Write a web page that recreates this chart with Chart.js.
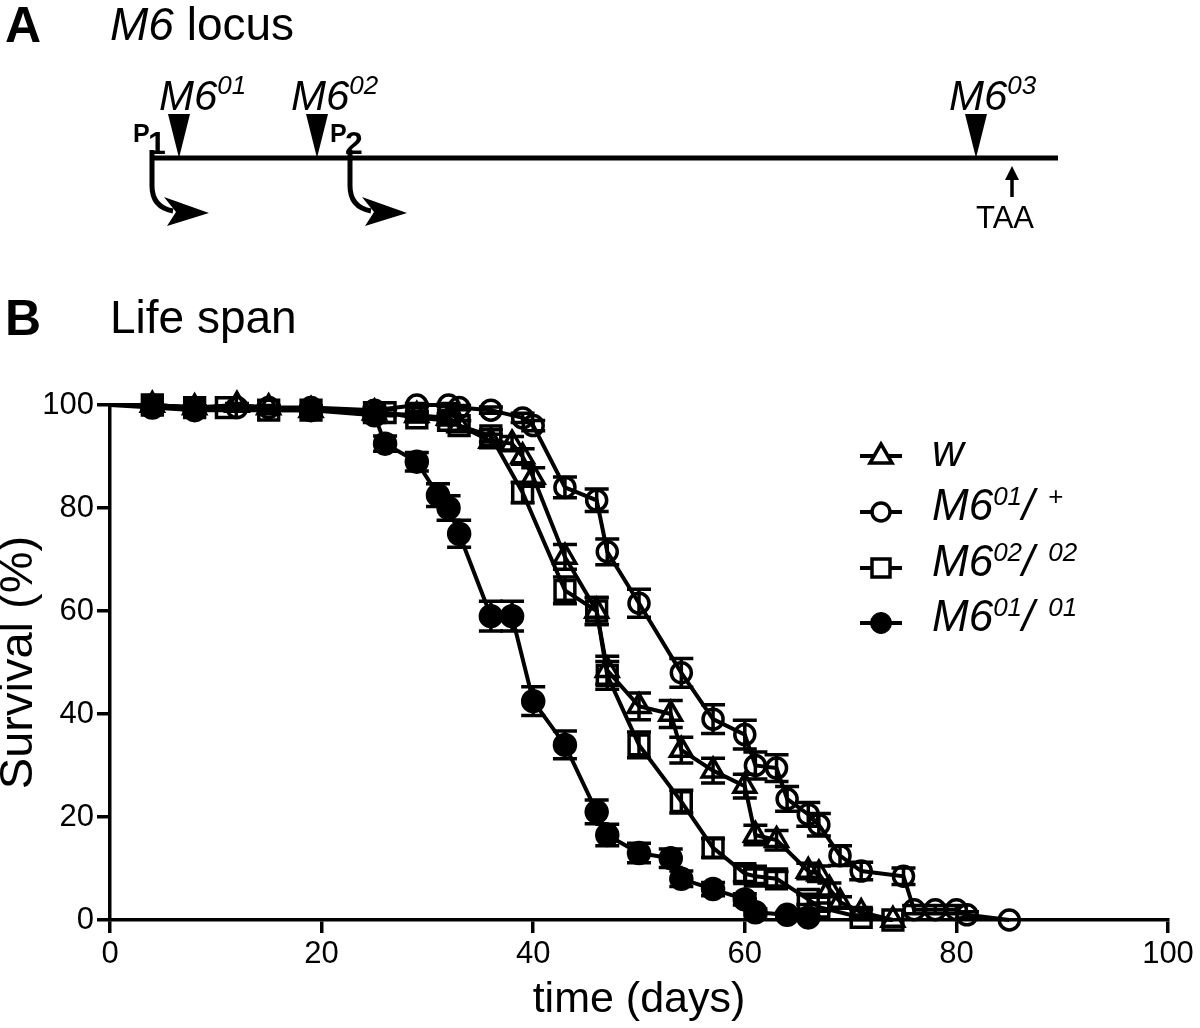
<!DOCTYPE html>
<html>
<head>
<meta charset="utf-8">
<script src="https://cdn.jsdelivr.net/npm/chart.js@4.4.0/dist/chart.umd.min.js"></script>
<style>
  html, body { margin: 0; padding: 0; background: #fff; }
  body { width: 1200px; height: 1028px; position: relative; overflow: hidden;
         font-family: "Liberation Sans", Arial, Helvetica, sans-serif; color: #000; }
  #plot { position: absolute; left: 0; top: 360px; width: 1200px; height: 668px; }
  svg.overlay { position: absolute; left: 0; top: 0; pointer-events: none; }
  svg text { font-family: "Liberation Sans", Arial, Helvetica, sans-serif; fill: #000; }
  .it { font-style: italic; }
</style>
</head>
<body>
<div id="plot"><canvas id="survival"></canvas></div>

<svg class="overlay" width="1200" height="1028" viewBox="0 0 1200 1028">
  <!-- panel A: M6 locus -->
  <text x="5" y="42" font-size="50" font-weight="bold">A</text>
  <text x="110" y="40" font-size="46"><tspan class="it">M6</tspan> locus</text>

  <line x1="151" y1="158" x2="1058" y2="158" stroke="#000" stroke-width="5"/>
  <polygon points="168,114 190,114 179,158" fill="#000"/>
  <polygon points="306,114 328,114 317,158" fill="#000"/>
  <polygon points="965,114 987,114 976,158" fill="#000"/>

  <text x="159" y="110" font-size="42" class="it">M6<tspan font-size="26" dy="-16">01</tspan></text>
  <text x="291" y="110" font-size="42" class="it">M6<tspan font-size="26" dy="-16">02</tspan></text>
  <text x="949" y="110" font-size="42" class="it">M6<tspan font-size="26" dy="-16">03</tspan></text>

  <text x="133" y="142" font-size="25" font-weight="bold">P</text>
  <text x="148" y="154" font-size="32" font-weight="bold">1</text>
  <text x="330" y="142" font-size="25" font-weight="bold">P</text>
  <text x="345" y="154" font-size="32" font-weight="bold">2</text>

  <g>
    <path d="M152 150 V186 Q152 207 173 211" stroke="#000" stroke-width="5" fill="none"/>
    <polygon points="209,213 164,197 176,212 167,226" fill="#000"/>
  </g>
  <g transform="translate(198,0)">
    <path d="M152 150 V186 Q152 207 173 211" stroke="#000" stroke-width="5" fill="none"/>
    <polygon points="209,213 164,197 176,212 167,226" fill="#000"/>
  </g>

  <line x1="1012" y1="197" x2="1012" y2="176" stroke="#000" stroke-width="3.5"/>
  <polygon points="1012,166 1005,180 1019,180" fill="#000"/>
  <text x="1005" y="228" font-size="31" text-anchor="middle">TAA</text>

  <!-- panel B header -->
  <text x="5" y="335" font-size="50" font-weight="bold">B</text>
  <text x="110" y="333" font-size="46">Life span</text>

  <!-- legend -->
  <g stroke="#000" stroke-width="4" fill="none">
    <line x1="860" y1="456" x2="902" y2="456"/>
    <polygon points="881,444 892,463 870,463" fill="#fff" stroke-width="3.5"/>
    <line x1="860" y1="512" x2="902" y2="512"/>
    <circle cx="881" cy="512" r="9" fill="#fff" stroke-width="3.5"/>
    <line x1="860" y1="568" x2="902" y2="568"/>
    <rect x="872" y="559" width="18" height="18" fill="#fff" stroke-width="3.5"/>
    <line x1="860" y1="623" x2="902" y2="623"/>
    <circle cx="881" cy="623" r="10.5" fill="#000" stroke-width="1"/>
  </g>
  <text x="932" y="466" font-size="44" class="it">w</text>
  <text x="932" y="520" font-size="44" class="it">M6<tspan font-size="26" dy="-15">01</tspan><tspan dy="15">/</tspan><tspan font-size="26" dx="14" dy="-15" font-style="normal">+</tspan></text>
  <text x="932" y="576" font-size="44" class="it">M6<tspan font-size="26" dy="-15">02</tspan><tspan dy="15">/</tspan><tspan font-size="26" dx="14" dy="-15">02</tspan></text>
  <text x="932" y="631" font-size="44" class="it">M6<tspan font-size="26" dy="-15">01</tspan><tspan dy="15">/</tspan><tspan font-size="26" dx="14" dy="-15">01</tspan></text>
</svg>

<script>
// survival (%) with SEM
const wDays = [0, 4, 8, 12, 15, 19, 25, 29, 32, 33, 36, 38, 39, 40, 43, 46, 47, 50, 53, 54, 57, 60, 61, 63, 66, 67, 68, 69, 71, 74];
const wSurvival = [100, 100, 99.5, 100, 99.5, 99, 98.5, 98, 97.5, 96, 93, 92.5, 90, 86, 70.5, 60, 48.5, 41.5, 40, 33, 29, 26, 16.5, 15.5, 9.5, 9, 6, 3.5, 1.5, 0];
const wSem = [0, 0, 0.3, 0.3, 0.4, 0.5, 0.6, 0.7, 0.8, 1, 1.3, 1.4, 1.5, 1.8, 2.4, 2.6, 2.7, 2.6, 2.6, 2.5, 2.4, 2.3, 1.9, 1.9, 1.5, 1.5, 1.2, 1, 0.6, 0];

const hetDays = [0, 4, 8, 12, 15, 19, 25, 29, 32, 33, 36, 39, 40, 43, 46, 47, 50, 54, 57, 60, 61, 63, 64, 66, 67, 69, 71, 75, 76, 78, 80, 81, 85];
const hetSurvival = [100, 100, 99.5, 99.5, 99.5, 99.5, 99, 100, 100, 99.5, 99, 97.5, 96, 84, 81.5, 71.5, 61.5, 48, 39, 36, 30, 29.5, 23.5, 20.5, 18.5, 12.5, 9.5, 8.5, 2, 2, 2, 1, 0];
const hetSem = [0, 0, 0.3, 0.3, 0.3, 0.3, 0.5, 0.3, 0.3, 0.4, 0.6, 0.9, 1, 2, 2.2, 2.5, 2.7, 2.8, 2.8, 2.8, 2.6, 2.6, 2.4, 2.3, 2.2, 1.9, 1.7, 1.6, 0.8, 0.8, 0.8, 0.6, 0];

const m02Days = [0, 4, 8, 11, 15, 19, 25, 26, 29, 32, 33, 36, 39, 43, 46, 47, 50, 54, 57, 60, 61, 63, 66, 67, 71, 74];
const m02Survival = [100, 100, 99.5, 99.5, 99, 99, 98.5, 98.5, 97.5, 97, 96, 94, 83, 64, 60, 47.5, 34, 23, 14, 9, 8.5, 8, 4, 2.5, 0.5, 0];
const m02Sem = [0, 0, 0.3, 0.3, 0.4, 0.4, 0.6, 0.6, 0.8, 0.9, 1, 1.2, 2, 2.6, 2.6, 2.7, 2.5, 2.2, 1.8, 1.5, 1.4, 1.4, 1, 0.8, 0.4, 0];

const m01Days = [0, 4, 8, 19, 25, 26, 29, 31, 32, 33, 36, 38, 40, 43, 46, 47, 50, 53, 54, 57, 60, 61, 64, 66];
const m01Survival = [100, 99.5, 99, 99, 98, 92.5, 89, 82.5, 80, 75, 59, 59, 42.5, 34, 21, 16.5, 13, 12, 8, 6, 4, 1.5, 1, 0.5];
const m01Sem = [0, 0.5, 0.5, 0.6, 1, 1.5, 1.8, 2.2, 2.4, 2.6, 2.9, 2.9, 2.8, 2.7, 2.3, 2.1, 1.9, 1.8, 1.5, 1.3, 1.1, 0.7, 0.5, 0.4];

const xTicks = [0, 20, 40, 60, 80, 100];
const yTicks = [0, 20, 40, 60, 80, 100];

Chart.defaults.font.family = '"Liberation Sans", Arial, Helvetica, sans-serif';
Chart.defaults.color = '#000';

const toPoints = (days, surv) => days.map((d, i) => ({ x: d, y: surv[i] }));

const series = (label, days, surv, sem, style, radius, fill) => ({
  label: label,
  data: toPoints(days, surv),
  sem: sem,
  borderColor: '#000',
  borderWidth: 4,
  pointStyle: style,
  pointRadius: (c) => (c.raw && c.raw.x === 0 ? 0 : radius),
  pointBorderWidth: 3.5,
  pointBorderColor: '#000',
  pointBackgroundColor: fill,
  tension: 0,
  clip: false,
});

// vertical SEM bars with caps
const errorBars = {
  id: 'errorBars',
  afterDatasetsDraw(chart) {
    const { ctx } = chart;
    const xs = chart.scales.x, ys = chart.scales.y;
    ctx.save();
    ctx.strokeStyle = '#000';
    ctx.lineWidth = 3.5;
    chart.data.datasets.forEach((ds) => {
      ds.data.forEach((p, i) => {
        const e = ds.sem[i];
        if (!e) return;
        const px = xs.getPixelForValue(p.x);
        const top = ys.getPixelForValue(p.y + e);
        const bot = ys.getPixelForValue(p.y - e);
        ctx.beginPath();
        ctx.moveTo(px, top); ctx.lineTo(px, bot);
        ctx.moveTo(px - 12, top); ctx.lineTo(px + 12, top);
        ctx.moveTo(px - 12, bot); ctx.lineTo(px + 12, bot);
        ctx.stroke();
      });
    });
    ctx.restore();
  }
};

new Chart(document.getElementById('survival'), {
  type: 'line',
  data: {
    datasets: [
      series('w', wDays, wSurvival, wSem, 'triangle', 12.5, 'rgba(0,0,0,0)'),
      series('M6 01/+', hetDays, hetSurvival, hetSem, 'circle', 10, 'rgba(0,0,0,0)'),
      series('M6 02/02', m02Days, m02Survival, m02Sem, 'rect', 14, 'rgba(0,0,0,0)'),
      series('M6 01/01', m01Days, m01Survival, m01Sem, 'circle', 10.5, '#000'),
    ],
  },
  options: {
    responsive: true,
    maintainAspectRatio: false,
    animation: false,
    events: [],
    layout: { padding: { top: 45, right: 32, left: 0, bottom: 0 } },
    plugins: {
      legend: { display: false },
      tooltip: { enabled: false },
    },
    scales: {
      x: {
        type: 'linear',
        min: 0,
        max: 100,
        afterFit: (s) => { s.height = 108; },
        afterBuildTicks: (s) => { s.ticks = xTicks.map((v) => ({ value: v })); },
        grid: { drawOnChartArea: false, drawTicks: true, tickLength: 13, lineWidth: 3.5, color: '#000' },
        border: { display: true, width: 3.5, color: '#000' },
        ticks: { font: { size: 31 }, padding: 3, maxRotation: 0 },
        title: { display: true, text: 'time (days)', font: { size: 43 }, padding: { top: 0, bottom: 2 } },
      },
      y: {
        min: 0,
        max: 100,
        afterFit: (s) => { s.width = 110; },
        afterBuildTicks: (s) => { s.ticks = yTicks.map((v) => ({ value: v })); },
        grid: { drawOnChartArea: false, drawTicks: true, tickLength: 13, lineWidth: 3.5, color: '#000' },
        border: { display: true, width: 3.5, color: '#000' },
        ticks: { font: { size: 31 }, padding: 3 },
        title: { display: true, text: 'Survival (%)', font: { size: 47, lineHeight: 1 }, padding: { top: -4 } },
      },
    },
  },
  plugins: [errorBars],
});
</script>
</body>
</html>
